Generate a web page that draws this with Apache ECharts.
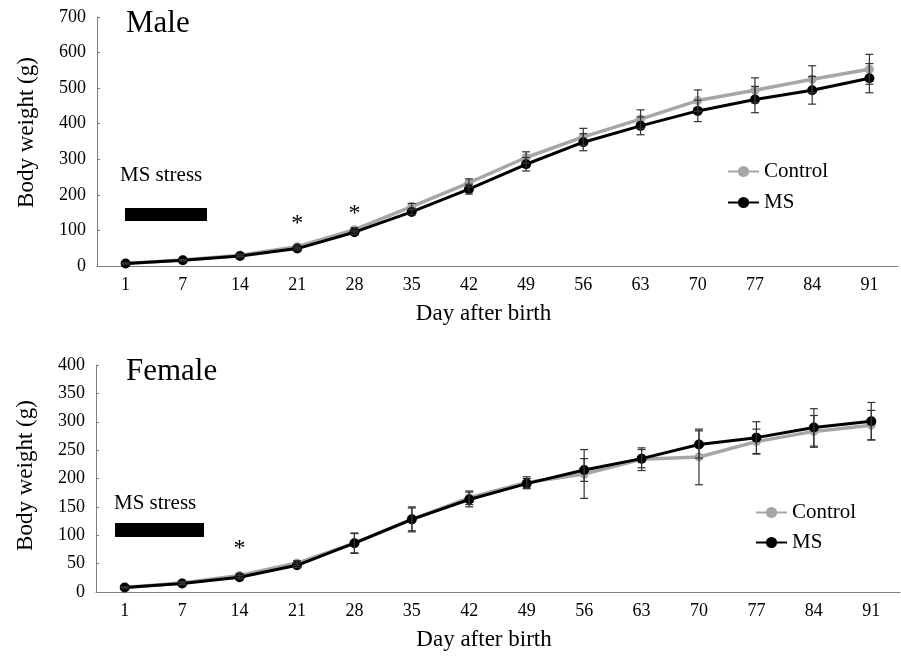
<!DOCTYPE html>
<html>
<head>
<meta charset="utf-8">
<script src="https://cdn.jsdelivr.net/npm/echarts@6/dist/echarts.min.js"></script>
<style>
html,body{margin:0;padding:0;background:#fff;}
#chart{width:901px;height:657px;}
</style>
</head>
<body>
<div id="chart"></div>
<script>
var days = ['1','7','14','21','28','35','42','49','56','63','70','77','84','91'];

var maleControl    = [7, 17, 30, 54, 102, 167, 234, 305, 363, 413, 465, 494, 525, 553];
var maleMS         = [7, 16, 28, 49, 95, 152, 216, 286, 348, 394, 436, 468, 494, 528];
var maleControlErr = [1, 2, 3, 4, 6, 9, 11, 16, 24, 26, 30, 35, 38, 42];
var maleMSErr      = [1, 2, 3, 4, 6, 8, 14, 19, 24, 25, 30, 37, 39, 41];

var femaleControl    = [8, 16, 29, 51, 86, 128, 166, 193, 208, 234, 238, 265, 283, 294];
var femaleMS         = [8, 15, 26, 47, 86, 128, 163, 191, 215, 235, 260, 272, 290, 301];
var femaleControlErr = [1, 2, 3, 4, 18, 20, 12, 10, 43, 20, 49, 22, 28, 26];
var femaleMSErr      = [1, 2, 3, 4, 17, 22, 13, 9, 20, 16, 24, 28, 33, 33];

var maleTicks = {min: 0, max: 700, interval: 100};
var femaleTicks = {min: 0, max: 400, interval: 50};

var maleStars = [{day: '21', y: 118}, {day: '28', y: 147}];
var femaleStars = [{day: '14', y: 76}];

var FONT = '"Liberation Serif", "Times New Roman", serif';
var GRAY = '#a6a6a6';
var BLACK = '#000000';

function errData(vals, errs) {
  return vals.map(function (v, i) { return [i, v - errs[i], v + errs[i]]; });
}

function errSeries(xi, vals, errs) {
  return {
    type: 'custom',
    xAxisIndex: xi, yAxisIndex: xi,
    z: 5,
    silent: true,
    data: errData(vals, errs),
    encode: {x: 0, y: [1, 2]},
    renderItem: function (params, api) {
      var i = api.value(0);
      var lo = api.coord([i, api.value(1)]);
      var hi = api.coord([i, api.value(2)]);
      var w = 4;
      var st = {stroke: '#333', lineWidth: 1.2};
      return {
        type: 'group',
        children: [
          {type: 'line', shape: {x1: lo[0], y1: lo[1], x2: hi[0], y2: hi[1]}, style: st},
          {type: 'line', shape: {x1: lo[0] - w, y1: lo[1], x2: lo[0] + w, y2: lo[1]}, style: st},
          {type: 'line', shape: {x1: hi[0] - w, y1: hi[1], x2: hi[0] + w, y2: hi[1]}, style: st}
        ]
      };
    }
  };
}

function starPoints(stars) {
  return {
    symbol: 'circle', symbolSize: 0,
    label: {show: true, position: 'inside', formatter: '*', fontFamily: FONT, fontSize: 24, color: '#000'},
    data: stars.map(function (s) { return {coord: [s.day, s.y]}; })
  };
}

function lineSeries(name, xi, data, color, width, size, extra) {
  var s = {
    name: name, type: 'line', xAxisIndex: xi, yAxisIndex: xi,
    data: data, symbol: 'circle', symbolSize: size,
    color: color,
    itemStyle: {color: color},
    lineStyle: {color: color, width: width},
    z: name === 'MS' ? 4 : 3
  };
  if (extra) s.markPoint = extra;
  return s;
}

function xAx(gi) {
  return {
    type: 'category', gridIndex: gi, data: days, boundaryGap: true,
    axisLine: {lineStyle: {color: '#7f7f7f', width: 1}},
    axisTick: {show: false},
    axisLabel: {fontFamily: FONT, fontSize: 18, color: '#000', margin: 10},
    name: 'Day after birth', nameLocation: 'middle', nameGap: 36,
    nameTextStyle: {fontFamily: FONT, fontSize: 23, color: '#000', padding: [0, 28, 0, 0]}
  };
}

function yAx(gi, t, shift) {
  return {
    type: 'value', gridIndex: gi, min: t.min, max: t.max, interval: t.interval,
    axisLine: {show: true, lineStyle: {color: '#7f7f7f', width: 1}},
    axisTick: {show: true, inside: true, length: 3, lineStyle: {color: '#7f7f7f'}},
    splitLine: {show: false},
    axisLabel: {fontFamily: FONT, fontSize: 18, color: '#000', margin: 11},
    name: 'Body weight (g)', nameLocation: 'middle', nameGap: 59,
    nameTextStyle: {fontFamily: FONT, fontSize: 23, color: '#000', padding: [0, 0, 0, shift]}
  };
}

function legendAt(left, top, gap) {
  return {
    data: ['Control', 'MS'], orient: 'vertical', left: left, top: top, padding: 0,
    itemWidth: 31, itemHeight: 14, itemGap: gap, selectedMode: false,
    textStyle: {fontFamily: FONT, fontSize: 21, color: '#000'}
  };
}

function txt(x, y, s, size) {
  return {type: 'text', x: x, y: y, z: 10,
    style: {text: s, font: size + 'px ' + FONT, fill: '#000', verticalAlign: 'middle', textVerticalAlign: 'middle'}};
}

var option = {
  animation: false,
  backgroundColor: '#fff',
  grid: [
    {left: 97, right: 3, top: 17, height: 249},
    {left: 96, right: 1, top: 365, height: 227}
  ],
  xAxis: [xAx(0), xAx(1)],
  yAxis: [yAx(0, maleTicks, 18), yAx(1, femaleTicks, 6)],
  legend: [legendAt(727, 161, 10), legendAt(755, 502, 9)],
  series: [
    lineSeries('Control', 0, maleControl, GRAY, 3.5, 9),
    lineSeries('MS', 0, maleMS, BLACK, 3, 10, starPoints(maleStars)),
    errSeries(0, maleControl, maleControlErr),
    errSeries(0, maleMS, maleMSErr),
    lineSeries('Control', 1, femaleControl, GRAY, 3.5, 9),
    lineSeries('MS', 1, femaleMS, BLACK, 3, 10, starPoints(femaleStars)),
    errSeries(1, femaleControl, femaleControlErr),
    errSeries(1, femaleMS, femaleMSErr)
  ],
  graphic: [
    txt(126, 24, 'Male', 31),
    txt(126, 372, 'Female', 31),
    txt(120, 175, 'MS stress', 21),
    txt(114, 503, 'MS stress', 21),
    {type: 'rect', shape: {x: 125, y: 208, width: 82, height: 13}, style: {fill: '#000'}},
    {type: 'rect', shape: {x: 115, y: 523, width: 89, height: 14}, style: {fill: '#000'}}
  ]
};

var chart = echarts.init(document.getElementById('chart'));
chart.setOption(option);
</script>
</body>
</html>
